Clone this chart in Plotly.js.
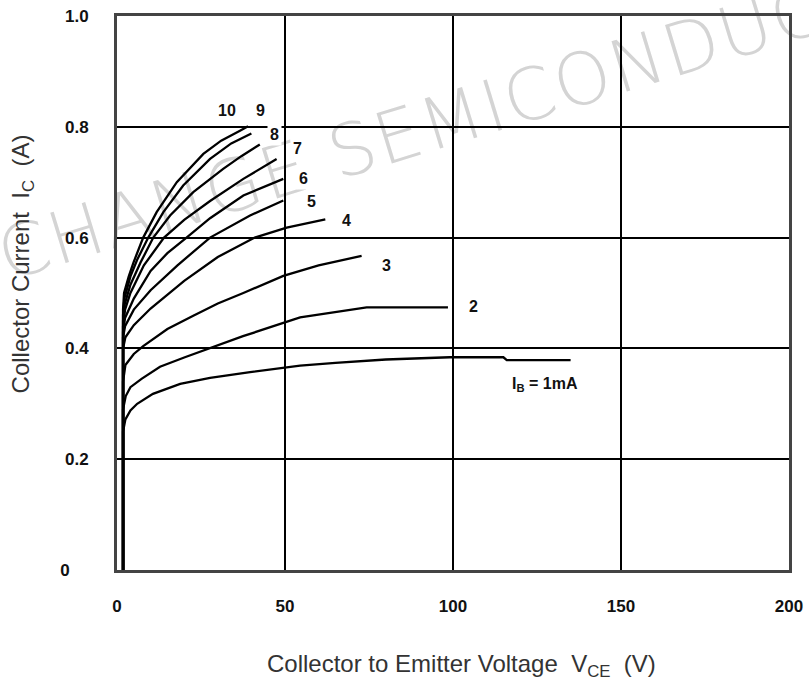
<!DOCTYPE html>
<html>
<head>
<meta charset="utf-8">
<script src="https://cdn.plot.ly/plotly-3.0.1.min.js"></script>
<style>
  html, body { margin: 0; padding: 0; background: #ffffff; }
  #wrap { position: relative; width: 809px; height: 686px; overflow: hidden; background: #fff; }
  #wm { position: absolute; left: 0px; top: 215px; white-space: nowrap;
        font-family: "DejaVu Sans", "Open Sans", sans-serif; font-weight: 200;
        font-size: 72px; color: #d4d4d4; transform: rotate(-17deg); transform-origin: 0 50%; letter-spacing: 2px; }
  #chart { position: absolute; left: 0; top: 0; width: 809px; height: 686px; }
</style>
</head>
<body>
<div id="wrap">
  <div id="wm">CHANGE SEMICONDUCTOR</div>
  <div id="chart"></div>
</div>
<script>
// Collector-emitter voltage (V) and collector current (A) for each base current IB (mA)
const vce1  = [1.8, 1.8, 2.5, 4, 6, 10.7, 18.8, 27.7, 39.6, 49.4, 54.5, 65, 80, 99, 115, 116, 135];
const ic1   = [0, 0.25, 0.272, 0.288, 0.300, 0.318, 0.336, 0.347, 0.357, 0.364, 0.369, 0.374, 0.380, 0.384, 0.384, 0.379, 0.379];

const vce2  = [1.8, 1.8, 2.6, 4, 7.3, 12.8, 20.2, 27.7, 37.5, 49.5, 54.5, 74.3, 98.5];
const ic2   = [0, 0.29, 0.314, 0.330, 0.345, 0.367, 0.384, 0.401, 0.422, 0.446, 0.456, 0.474, 0.474];

const vce3  = [1.8, 1.8, 2.5, 5, 7.8, 15, 22.7, 30, 37.6, 49.5, 60, 72.8];
const ic3   = [0, 0.34, 0.370, 0.390, 0.404, 0.435, 0.459, 0.481, 0.500, 0.531, 0.550, 0.567];

const vce4  = [1.8, 1.8, 2.5, 5, 10, 20, 30, 41, 50.5, 58.4, 62];
const ic4   = [0, 0.40, 0.420, 0.442, 0.472, 0.522, 0.565, 0.600, 0.618, 0.629, 0.633];

const vce5  = [1.8, 1.8, 2.4, 5, 10, 18, 27.7, 39.6, 49.5];
const ic5   = [0, 0.42, 0.440, 0.470, 0.505, 0.550, 0.600, 0.640, 0.667];

const vce6  = [1.8, 1.8, 2.4, 5, 10, 15, 20.7, 27.7, 37.6, 49.5];
const ic6   = [0, 0.43, 0.455, 0.490, 0.540, 0.572, 0.600, 0.635, 0.676, 0.706];

const vce7  = [1.8, 1.8, 2.4, 4, 8, 14, 20, 27.7, 37.6, 47.5];
const ic7   = [0, 0.44, 0.470, 0.500, 0.550, 0.600, 0.632, 0.666, 0.706, 0.742];

const vce8  = [1.8, 1.8, 2.3, 4, 7, 10.8, 15.8, 22.7, 31.6, 37, 42.5];
const ic8   = [0, 0.45, 0.480, 0.515, 0.555, 0.600, 0.640, 0.682, 0.724, 0.747, 0.768];

const vce9  = [1.8, 1.8, 2.2, 4, 6, 9.3, 13.8, 19.7, 27.7, 34, 40];
const ic9   = [0, 0.46, 0.490, 0.530, 0.560, 0.600, 0.646, 0.694, 0.742, 0.770, 0.788];

const vce10 = [1.8, 1.8, 2.1, 3.5, 4.9, 7.8, 11.8, 17.8, 25.7, 31, 36.6, 39];
const ic10  = [0, 0.47, 0.500, 0.530, 0.555, 0.600, 0.646, 0.700, 0.751, 0.775, 0.793, 0.801];

const curvesV = [vce1, vce2, vce3, vce4, vce5, vce6, vce7, vce8, vce9, vce10];
const curvesI = [ic1, ic2, ic3, ic4, ic5, ic6, ic7, ic8, ic9, ic10];

// curve labels (IB in mA) and where they sit
const labelText = ["I<sub>B</sub> = 1mA", "2", "3", "4", "5", "6", "7", "8", "10", "9"];
const labelV    = [127.4, 106, 80.1, 68.2, 58, 55.6, 53.6, 47.0, 32.7, 42.6];
const labelI    = [0.335, 0.476, 0.550, 0.630, 0.665, 0.706, 0.760, 0.787, 0.830, 0.830];

// axes ticks and titles
const xTickVals = [0, 50, 100, 150, 200];
const xTickText = ["0", "50", "100", "150", "200"];
const yTickVals = [0, 0.2, 0.4, 0.6, 0.8, 1.0];
const yTickText = ["0\u00a0\u00a0\u00a0\u00a0", "0.2", "0.4", "0.6", "0.8", "1.0"];
const xTitle = "Collector to Emitter Voltage  V<sub>CE</sub>  (V)";
const yTitle = "Collector Current  I<sub>C</sub>  (A)";

const tickFont = { family: "Liberation Sans, Arial", size: 17, color: "#111", weight: "bold" };
const titleFont = { family: "Liberation Sans, Arial", size: 24, color: "#333" };

const traces = curvesV.map((v, k) => ({
  x: v, y: curvesI[k], type: "scatter", mode: "lines",
  line: { color: "#000", width: 2.3, shape: "linear" },
  hoverinfo: "skip", showlegend: false
}));

const annotations = labelText.map((t, k) => ({
  x: labelV[k], y: labelI[k], xref: "x", yref: "y", text: t, showarrow: false,
  font: { family: "Liberation Sans, Arial", size: 16, color: "#111", weight: "bold" },
  bgcolor: "#ffffff", borderpad: 2
}));
annotations.push({ x: 0.512, y: -0.172, xref: "paper", yref: "paper", text: xTitle,
  showarrow: false, xanchor: "center", yanchor: "middle", font: titleFont });
annotations.push({ x: -0.141, y: 0.552, xref: "paper", yref: "paper", text: yTitle,
  showarrow: false, xanchor: "center", yanchor: "middle", textangle: -90, font: titleFont });

const layout = {
  width: 809, height: 686,
  margin: { l: 117, r: 20, t: 16, b: 116 },
  paper_bgcolor: "rgba(0,0,0,0)", plot_bgcolor: "rgba(0,0,0,0)",
  showlegend: false,
  xaxis: {
    range: [0, 200], tickvals: xTickVals, ticktext: xTickText,
    showgrid: true, gridcolor: "#000", gridwidth: 2, zeroline: false,
    showline: true, linecolor: "#444", linewidth: 3, mirror: true,
    ticks: "", ticklabelstandoff: 19, tickfont: tickFont, fixedrange: true
  },
  yaxis: {
    range: [0, 1.0], tickvals: yTickVals, ticktext: yTickText,
    showgrid: true, gridcolor: "#000", gridwidth: 2, zeroline: false,
    showline: true, linecolor: "#444", linewidth: 3, mirror: true,
    ticks: "", ticklabelstandoff: 22, tickfont: tickFont, fixedrange: true
  },
  annotations: annotations
};

Plotly.newPlot("chart", traces, layout, { displayModeBar: false, staticPlot: true });
</script>
</body>
</html>
